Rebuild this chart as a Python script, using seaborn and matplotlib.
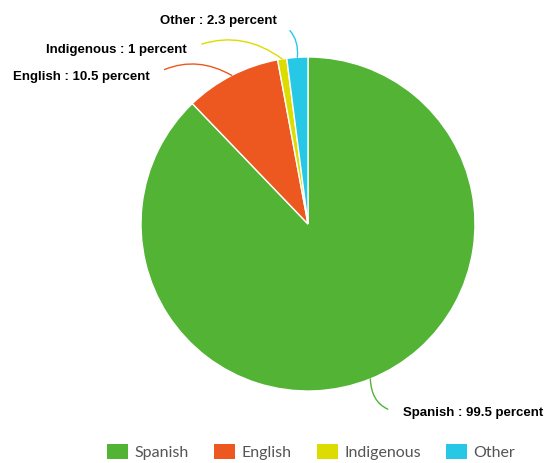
import numpy as np
import matplotlib
matplotlib.use("Agg")
import matplotlib.pyplot as plt
from matplotlib.patches import Patch
import seaborn as sns

languages = ["Spanish", "English", "Indigenous", "Other"]
percents = [99.5, 10.5, 1, 2.3]
percent_labels = ["99.5", "10.5", "1", "2.3"]
colors = ["#52b335", "#ec581f", "#dcdc00", "#26c8e6"]

sns.set_theme(style="white")
plt.rcParams["font.family"] = ["Liberation Sans", "DejaVu Sans"]

fig = plt.figure(figsize=(5.54, 4.63), dpi=100)
ax = fig.add_axes([141 / 554, 72 / 463, 334 / 554, 334 / 463])

wedges, _ = ax.pie(percents, colors=colors, startangle=90, counterclock=False,
                   radius=1, wedgeprops=dict(edgecolor="white", linewidth=1))
ax.set_xlim(-1, 1)
ax.set_ylim(-1, 1)
ax.set_aspect("equal")
ax.axis("off")

# label placement (data coords) and curvature of the connector
label_pos = {
    "Spanish": ((0.57, -1.13), "left", -0.45),
    "English": ((-0.946, 0.88), "right", -0.3),
    "Indigenous": ((-0.725, 1.042), "right", -0.3),
    "Other": ((-0.186, 1.215), "right", -0.35),
}

for w, lang, pl, c in zip(wedges, languages, percent_labels, colors):
    mid = np.deg2rad((w.theta1 + w.theta2) / 2)
    tip = (np.cos(mid), np.sin(mid))
    (tx, ty), ha, rad = label_pos[lang]
    relx = 0 if ha == "left" else 1
    ax.annotate(f"{lang} : {pl} percent", xy=tip, xytext=(tx, ty),
                ha=ha, va="center", fontsize=9.5, fontweight="bold", color="#000000",
                annotation_clip=False,
                arrowprops=dict(arrowstyle="-", color=c, lw=1,
                                shrinkA=9, shrinkB=0, relpos=(relx, 0.5),
                                connectionstyle=f"arc3,rad={rad}"))

handles = [Patch(facecolor=c, edgecolor="none") for c in colors]
leg = fig.legend(handles, languages, loc="center", bbox_to_anchor=(0.562, 0.024),
                 ncol=4, frameon=False, handlelength=1.3, handleheight=1.1,
                 handletextpad=0.4, columnspacing=1.6,
                 prop={"family": ["Lato", "DejaVu Sans"], "size": 11.5})
for t in leg.get_texts():
    t.set_color("#555555")

fig.savefig("out.png", dpi=100)
